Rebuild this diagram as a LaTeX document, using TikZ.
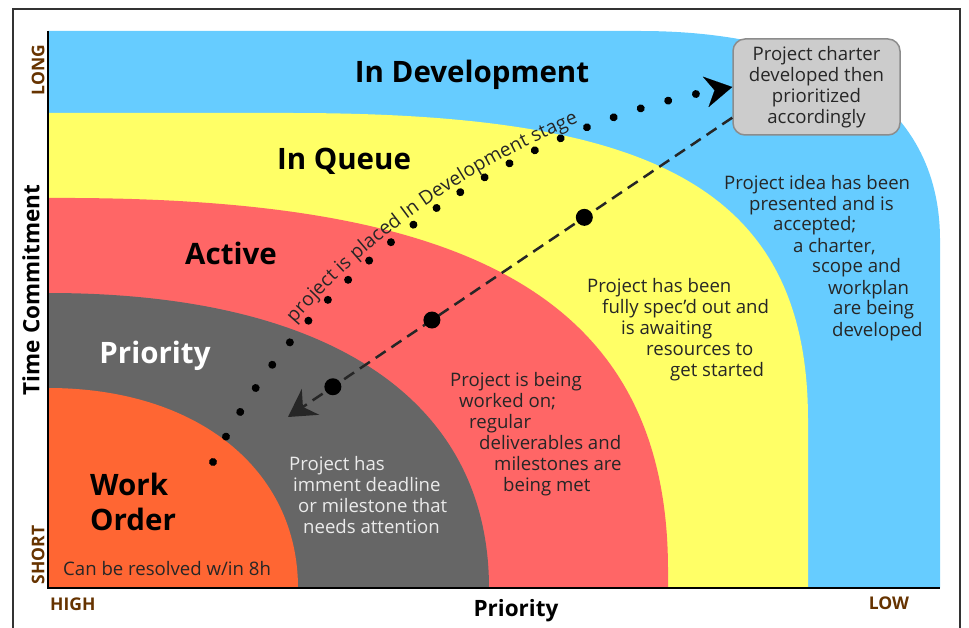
\documentclass[tikz,border=0pt]{standalone}
\usepackage{fontspec}
\setmainfont{Open Sans}
\usetikzlibrary{arrows.meta,decorations.text,calc}

\definecolor{devblue}{HTML}{66CCFF}
\definecolor{queueyellow}{HTML}{FFFF66}
\definecolor{activered}{HTML}{FF6666}
\definecolor{prioritygrey}{HTML}{666666}
\definecolor{workorange}{HTML}{FF6633}
\definecolor{axisbrown}{HTML}{663300}
\definecolor{chartergrey}{HTML}{CCCCCC}

\tikzset{
  bandlabel/.style={font=\fontsize{29.5}{35}\selectfont\bfseries, anchor=base, inner sep=0pt},
  note/.style={font=\fontsize{18.6}{21}\selectfont, align=left, anchor=base west, inner sep=0pt, text=black!85},
  axistitle/.style={font=\fontsize{22.5}{22}\selectfont\bfseries, inner sep=0pt},
  axisend/.style={font=\fontsize{17.5}{17}\selectfont\bfseries, text=axisbrown, inner sep=0pt},
  charterbox/.style={draw=black!45, line width=1.5pt, fill=chartergrey, rounded corners=12pt,
    minimum width=167pt, minimum height=96pt, align=center, text=black!85,
    font=\fontsize{18.6}{21}\selectfont},
  dotline/.style={line width=8pt, line cap=round, dash pattern=on 0.01pt off 28.5pt,
    -{Stealth[length=27pt,width=31pt,inset=9pt,line width=0.1pt]}},
  dashline/.style={line width=2.5pt, black!85, dash pattern=on 12pt off 7pt,
    -{Stealth[length=27pt,width=31pt,inset=9pt]}},
  bigdot/.style={circle, fill=black, inner sep=0pt, minimum size=17pt}
}

\begin{document}
\begin{tikzpicture}[x=1pt,y=-1pt]
\useasboundingbox (0,0) rectangle (969,628);
\clip (0,0) rectangle (969,628);
\draw[line width=2pt, black!80] (13,9) rectangle (960,660);

% stages, outermost first
\fill[devblue] (48,588) -- (48,31) -- (640,31) .. controls (820,31) and (940,100) .. (940,240) -- (940,588) -- cycle;
\fill[queueyellow] (48,588) -- (48,113) -- (290,113) .. controls (640,113) and (808,180) .. (808,420) -- (808,588) -- cycle;
\fill[activered] (48,588) -- (48,198) .. controls (440,196) and (668,280) .. (668,570) -- (668,588) -- cycle;
\fill[prioritygrey] (48,588) -- (48,293) .. controls (330,293) and (489,400) .. (489,588) -- cycle;
\fill[workorange] (48,588) -- (48,388) .. controls (198,388) and (298,470) .. (298,588) -- cycle;
\draw[line width=2.5pt] (48,31) -- (48,588) -- (940,588);

% axes
\node[axistitle, rotate=90] (timeaxis) at (31,290) {Time Commitment};
\node[axistitle, anchor=base] (priorityaxis) at (516,616) {Priority};
\node[axisend, rotate=90] (long) at (38,70) {LONG};
\node[axisend, rotate=90] (short) at (38,555) {SHORT};
\node[axisend, anchor=base west] (high) at (50,610) {HIGH};
\node[axisend, anchor=base] (low) at (889,609) {LOW};

% stage names (base = last line)
\node[bandlabel] (indev) at (472,83) {In Development};
\node[bandlabel] (inqueue) at (344,170) {In Queue};
\node[bandlabel] (active) at (231,265) {Active};
\node[bandlabel, text=white] (priority) at (155,363) {Priority};
\node[bandlabel, anchor=base west, align=left] (workorder) at (90,530) {Work\\Order};

% stage notes
\node[note] (devnote) at (724,336) {Project idea has been\\
  \hspace*{25pt}presented and is\\
  \hspace*{49pt}accepted;\\
  \hspace*{69pt}a charter,\\
  \hspace*{88pt}scope and\\
  \hspace*{104pt}workplan\\
  \hspace*{109pt}are being\\
  \hspace*{108pt}developed};
\node[note] (queuenote) at (587,376) {Project has been\\
  \hspace*{15pt}fully spec'd out and\\
  \hspace*{34pt}is awaiting\\
  \hspace*{59pt}resources to\\
  \hspace*{83pt}get started};
\node[note] (activenote) at (450,491) {Project is being\\
  \hspace*{9pt}worked on;\\
  \hspace*{19pt}regular\\
  \hspace*{29pt}deliverables and\\
  \hspace*{44pt}milestones are\\
  \hspace*{53pt}being met};
\node[note, text=black!8] (prioritynote) at (289,533) {Project has\\
  \hspace*{4pt}imment deadline\\
  \hspace*{9pt}or milestone that\\
  \hspace*{14pt}needs attention};
\node[note] (worknote) at (63,575) {Can be resolved w/in 8h};

\node[charterbox] (charter) at (816.5,87) {Project charter\\developed then\\prioritized\\accordingly};

% paths between the stages
\coordinate (dotstart) at (213,462);
\coordinate (dashend) at (288,417);
\draw[dotline] (dotstart) .. controls (300,280) and (500,130) .. (charter.west);
\path[decorate, decoration={text along path, raise=9pt, text align={left indent=160pt},
    text={|\fontsize{19.2}{19}\selectfont\color{black!85}|project is placed In Development stage}}]
  (dotstart) .. controls (300,280) and (500,130) .. (charter.west);
\draw[dashline] (charter.200) -- (dashend);
\foreach \p [count=\i] in {0.333,0.676,0.899}
  \node[bigdot] (dot\i) at ($(charter.200)!\p!(dashend)$) {};
\end{tikzpicture}
\end{document}
